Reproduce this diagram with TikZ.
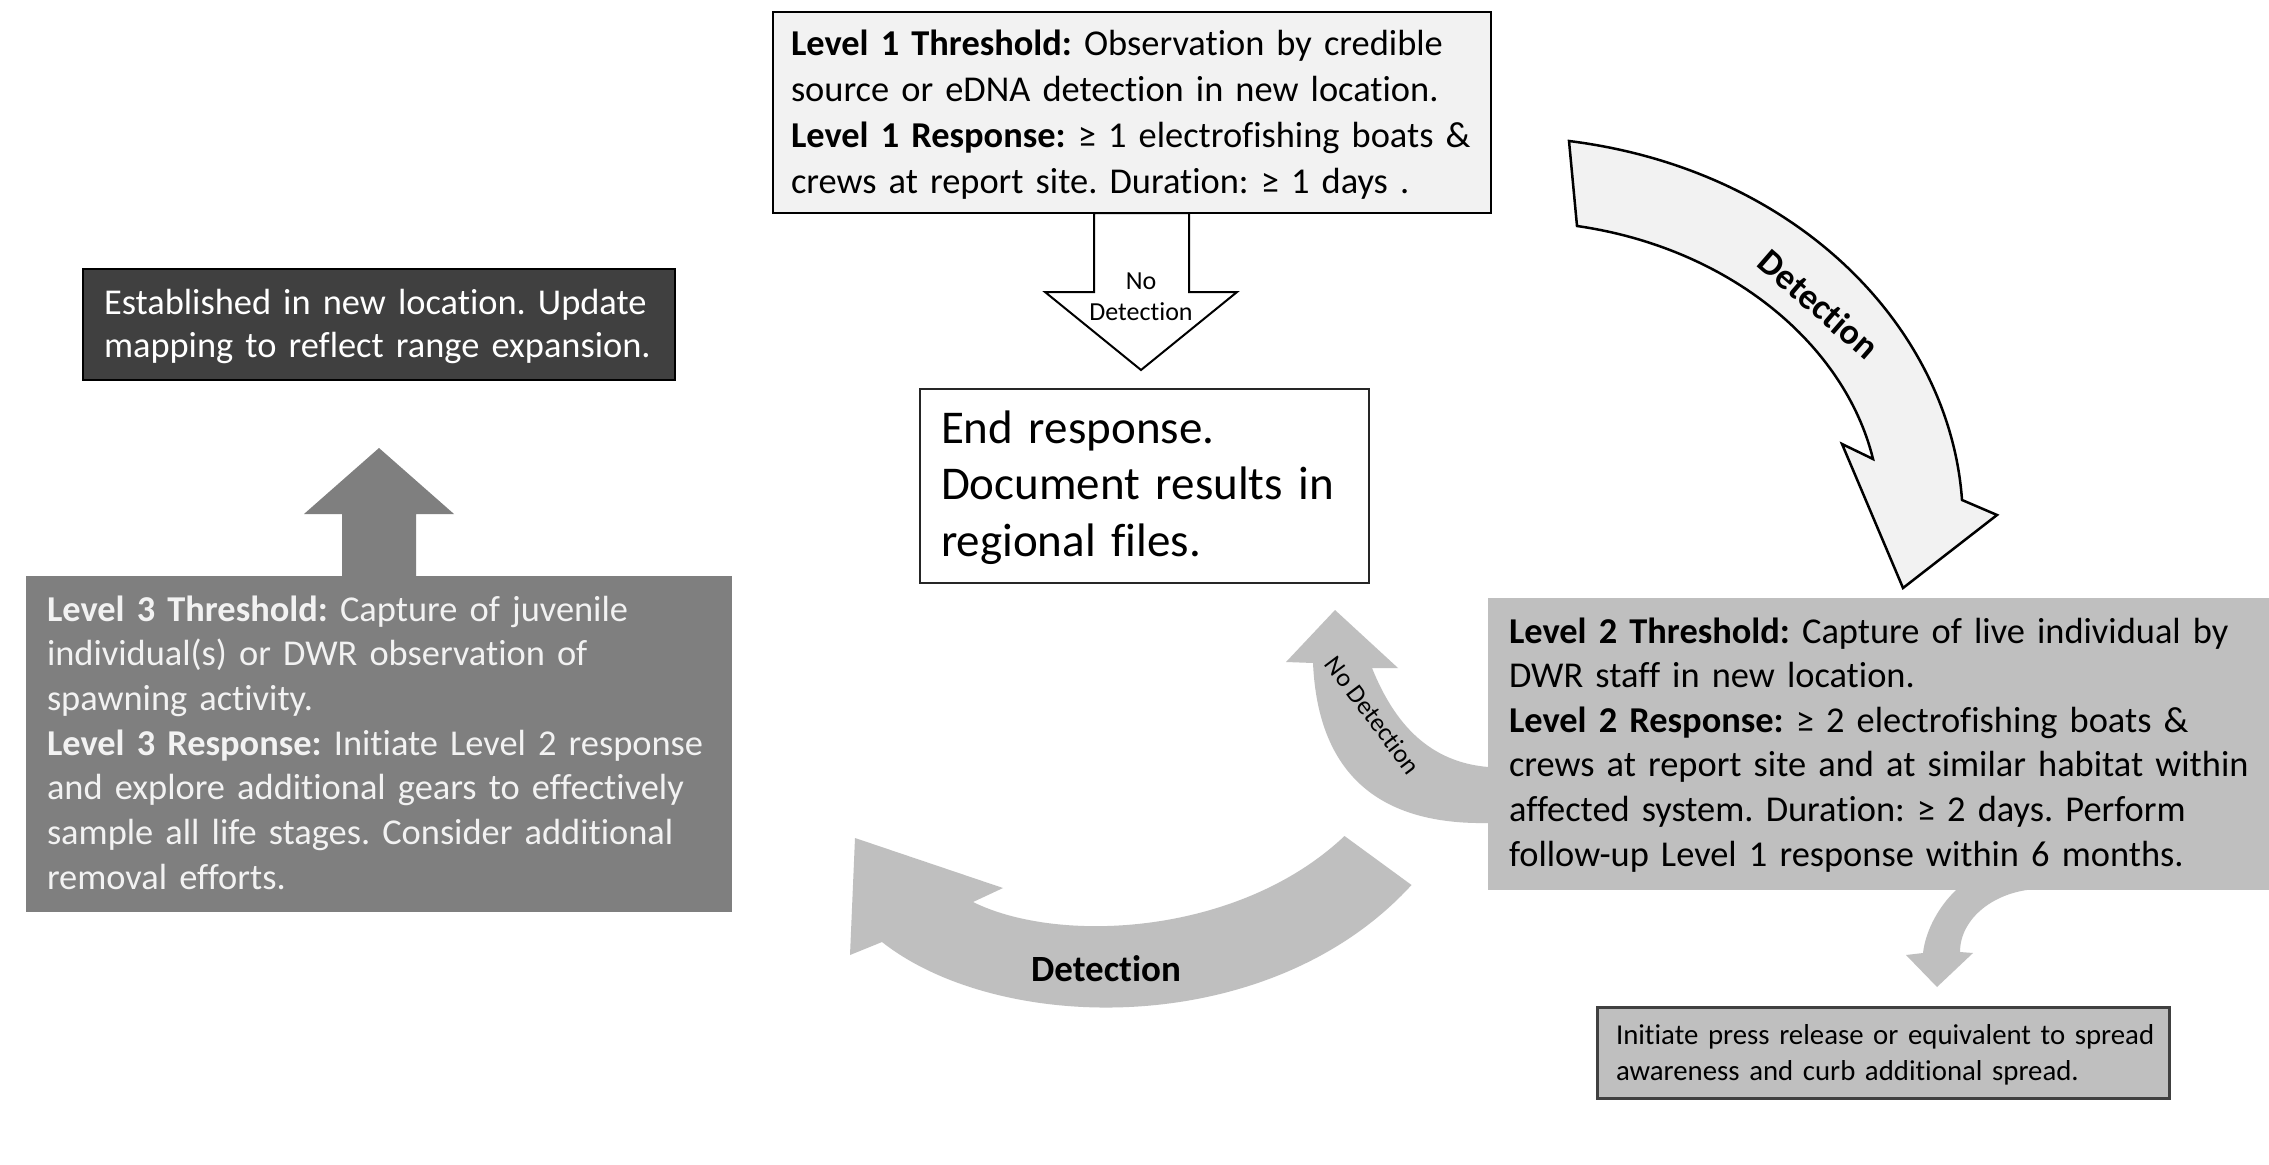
\documentclass[tikz,border=0pt]{standalone}
\usepackage{fontspec}
\setmainfont{Carlito}[Ligatures=NoCommon]
\definecolor{lgray}{HTML}{F2F2F2}
\definecolor{mgray}{HTML}{BFBFBF}
\definecolor{dgray}{HTML}{7F7F7F}
\definecolor{vdgray}{HTML}{404040}
\begin{document}
\frenchspacing
\begin{tikzpicture}[x=1pt,y=-1pt,
  boxshape/.style={anchor=north west, inner sep=0pt, outer sep=0pt},
  txt/.style={anchor=base west, inner sep=0pt, outer sep=0pt, align=left, text width=1000pt},
  mainfont/.style={font=\fontsize{36.4pt}{#1}\selectfont},
  blockarrow/.style={line join=miter}
]
\fill[white] (0,0) rectangle (2269,1164);
\useasboundingbox (0,0) rectangle (2269,1164);

% Level 1 box
\node[boxshape, draw=black, line width=2pt, fill=lgray, minimum width=718pt, minimum height=201pt] (l1) at (773,12) {};
\node[txt, mainfont=45.8pt] (l1t) at (791,56) {\textbf{Level 1 Threshold:} Observation by credible\\source or eDNA detection in new location.\\\textbf{Level 1 Response:} ≥ 1 electrofishing boats \&\\crews at report site. Duration: ≥ 1 days .};

% End response box
\node[boxshape, draw=black!85, line width=2pt, fill=white, minimum width=449pt, minimum height=194pt] (endb) at (920,389) {};
\node[txt, font=\fontsize{47pt}{56.7pt}\selectfont] (endt) at (941,443) {End response.\\Document results in\\regional files.};

% Down arrow No Detection
\draw[blockarrow, fill=white, draw=black, line width=2pt]
  (1094,213) -- (1094,292) -- (1045,292) -- (1141,370) -- (1237,292) -- (1189,292) -- (1189,213) -- cycle;
\node[inner sep=0pt, align=center, font=\fontsize{26pt}{31pt}\selectfont] (nd1) at (1141,297) {No\\Detection};

% Established box
\node[boxshape, draw=black, line width=2pt, fill=vdgray, minimum width=592pt, minimum height=111pt] (est) at (83,269) {};
\node[txt, mainfont=43.4pt, text=white] (estt) at (104,314) {Established in new location. Update\\mapping to reflect range expansion.};

% Level 3 box
\node[boxshape, fill=dgray, minimum width=706pt, minimum height=336pt] (l3) at (26,576) {};
\node[txt, mainfont=44.7pt, text=lgray] (l3t) at (47,621) {\textbf{Level 3 Threshold:} Capture of juvenile\\individual(s) or DWR observation of\\spawning activity.\\\textbf{Level 3 Response:} Initiate Level 2 response\\and explore additional gears to effectively\\sample all life stages. Consider additional\\removal efforts.};

% Up arrow
\fill[dgray, blockarrow] (342,577) -- (342,514) -- (304,514) -- (379,448) -- (454,514) -- (416,514) -- (416,577) -- cycle;

% Level 2 box
\node[boxshape, fill=mgray, minimum width=781pt, minimum height=292pt] (l2) at (1488,598) {};
\node[txt, mainfont=44.6pt] (l2t) at (1509,643) {\textbf{Level 2 Threshold:} Capture of live individual by\\DWR staff in new location.\\\textbf{Level 2 Response:} ≥ 2 electrofishing boats \&\\crews at report site and at similar habitat within\\affected system. Duration: ≥ 2 days. Perform\\follow-up Level 1 response within 6 months.};

% Press release box
\node[boxshape, draw=vdgray, line width=3pt, fill=mgray, minimum width=572pt, minimum height=91pt] (pr) at (1597,1007) {};
\node[txt, font=\fontsize{28.8pt}{36.3pt}\selectfont] (prt) at (1616,1044) {Initiate press release or equivalent to spread\\awareness and curb additional spread.};

% Top-right curved Detection arrow
\draw[blockarrow, fill=lgray, draw=black, line width=2.5pt]
  (1569,141) .. controls (1800,170) and (1950,330) .. (1962,500)
  -- (1997,515) -- (1903,588) -- (1842,444) -- (1873,459)
  .. controls (1845,345) and (1730,248) .. (1577,226) -- cycle;
\node[inner sep=0pt, rotate=-41, font=\fontsize{36pt}{40pt}\selectfont\bfseries] (det1) at (1819,304) {Detection};

% Curved No Detection arrow (up-left from Level 2)
\fill[mgray, blockarrow]
  (1335,610) -- (1398,668) -- (1372,668)
  .. controls (1395,725) and (1430,762) .. (1488,767)
  -- (1488,823)
  .. controls (1380,825) and (1318,775) .. (1313,663)
  -- (1286,662) -- cycle;
\node[inner sep=0pt, rotate=-53, font=\fontsize{26pt}{30pt}\selectfont] (nd2) at (1373,715) {No Detection};

% Bottom Detection arrow
\fill[mgray, blockarrow]
  (855,838) -- (1003,888) -- (973,902)
  .. controls (1060,945) and (1240,935) .. (1344.5,836)
  -- (1411.5,885)
  .. controls (1270,1040) and (1000,1035) .. (882,942)
  -- (850,955) -- cycle;
\node[inner sep=0pt, font=\fontsize{37pt}{40pt}\selectfont\bfseries] (det2) at (1106,969) {Detection};

% Small arrow to press release
\fill[mgray, blockarrow]
  (1957,889) .. controls (1935,910) and (1925,935) .. (1923,953)
  -- (1906,955) -- (1937,987) -- (1973,953) -- (1960,952)
  .. controls (1960,918) and (1995,891) .. (2037,889) -- cycle;
\end{tikzpicture}
\end{document}
